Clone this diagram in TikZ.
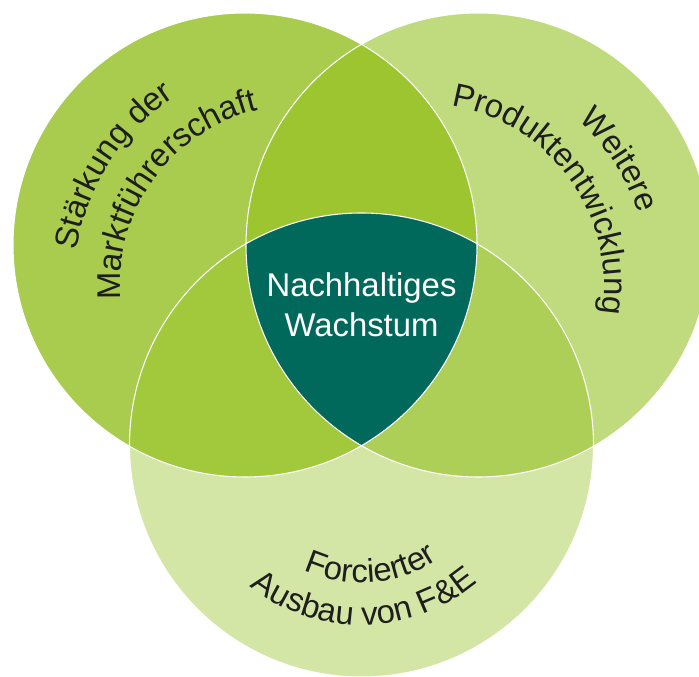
\documentclass[tikz,border=0pt]{standalone}
\usepackage{fontspec}
\setmainfont{Liberation Sans}
\usetikzlibrary{decorations.text}

\definecolor{leftgreen}{HTML}{A9CC4F}
\definecolor{rightgreen}{HTML}{C0DB7E}
\definecolor{bottomgreen}{HTML}{D4E6A6}
\definecolor{lrgreen}{HTML}{9DC52F}
\definecolor{lbgreen}{HTML}{A2C83C}
\definecolor{rbgreen}{HTML}{AECF57}
\definecolor{coreteal}{HTML}{00695C}
\definecolor{labelgray}{HTML}{1E1E1E}

\tikzset{
  circline/.style={draw=white, line width=0.6pt},
  arctext/.style={decorate, decoration={text along path, text align=center,
      text color=labelgray, text={|\fontsize{18.7}{22.7}\selectfont|#1}}}
}

\begin{document}
\begin{tikzpicture}[x=0.02cm, y=0.02cm]
  \useasboundingbox (0,0) rectangle (699,676);
  \fill[white] (0,0) rectangle (699,676);
  \clip (0,0) rectangle (699,676);

  % circle centres, each circle runs through the other two
  \coordinate (L) at (245,431);
  \coordinate (R) at (478,431);
  \coordinate (B) at (361.5,231);

  \fill[leftgreen] (L) circle[radius=232];
  \fill[rightgreen] (R) circle[radius=232];
  \fill[bottomgreen] (B) circle[radius=232];

  % pairwise overlaps
  \begin{scope}
    \clip (L) circle[radius=232];
    \fill[lrgreen] (R) circle[radius=232];
    \fill[lbgreen] (B) circle[radius=232];
  \end{scope}
  \begin{scope}
    \clip (R) circle[radius=232];
    \fill[rbgreen] (B) circle[radius=232];
    \clip (L) circle[radius=232];
    \fill[coreteal] (B) circle[radius=232]; % middle part
  \end{scope}

  \draw[circline] (L) circle[radius=232];
  \draw[circline] (R) circle[radius=232];
  \draw[circline] (B) circle[radius=232];

  \node[text=white, align=center, inner sep=0pt, font=\fontsize{18.7}{22.7}\selectfont]
    (growth) at (361.5,371) {Nachhaltiges\\Wachstum};

  % curved labels
  \coordinate (TL) at (300,391);
  \coordinate (TR) at (423,391);
  \path[arctext={Stärkung der}] (TL) ++(207.5:226) arc[start angle=207.5, end angle=87.5, radius=226];
  \path[arctext={Marktführerschaft}] (TL) ++(214:180) arc[start angle=214, end angle=74, radius=180];
  \path[arctext={Weitere}] (TR) ++(92.5:227) arc[start angle=92.5, end angle=-27.5, radius=227];
  \path[arctext={Produktentwicklung}] (TR) ++(106:181) arc[start angle=106, end angle=-34, radius=181];
  \path[arctext={Forcierter}] (B) ++(214.5:138) arc[start angle=214.5, end angle=334.5, radius=138];
  \path[arctext={Ausbau von F{\&}E}] (B) ++(201:180) arc[start angle=201, end angle=341, radius=180];
\end{tikzpicture}
\end{document}
